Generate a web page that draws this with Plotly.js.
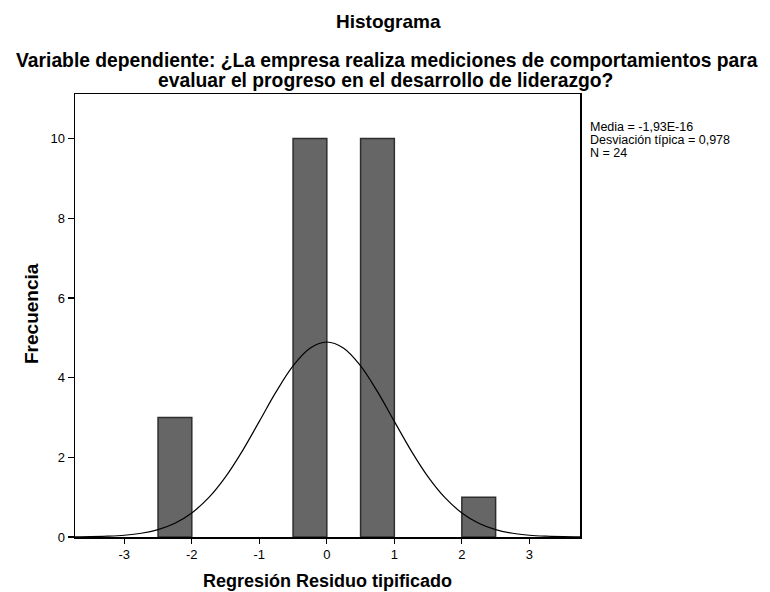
<!DOCTYPE html>
<html><head><meta charset="utf-8">
<script src="https://cdn.plot.ly/plotly-3.0.1.min.js"></script>
<style>body{margin:0;background:#fff}#c{width:770px;height:592px}</style>
</head><body><div id="c"></div>
<script>
// Histogram bins (start, end) and frequencies
const binStart = [-2.5, -0.5, 0.5, 2.0];
const binEnd   = [-2.0,  0.0, 1.0, 2.5];
const freq     = [3, 10, 10, 1];
// Normal curve (x, frequency)
const curveX = [-3.75,-3.5,-3.25,-3.0,-2.75,-2.5,-2.25,-2.0,-1.75,-1.5,-1.25,-1.0,-0.75,-0.5,-0.25,0,0.25,0.5,0.75,1.0,1.25,1.5,1.75,2.0,2.25,2.5,2.75,3.0,3.25,3.5,3.75];
const curveY = [0.003,0.008,0.020,0.044,0.094,0.187,0.347,0.605,0.987,1.510,2.163,2.902,3.648,4.295,4.737,4.895,4.737,4.295,3.648,2.902,2.163,1.510,0.987,0.605,0.347,0.187,0.094,0.044,0.020,0.008,0.003];
const xTicks = [-3,-2,-1,0,1,2,3];
const yTicks = [0,2,4,6,8,10];
const titleText = "Histograma";
const subtitleLines = ["Variable dependiente: ¿La empresa realiza mediciones de comportamientos para","evaluar el progreso en el desarrollo de liderazgo?"];
const xTitle = "Regresión Residuo tipificado";
const yTitle = "Frecuencia";
const statLines = ["Media = -1,93E-16","Desviación típica = 0,978","N = 24"];

const FONT = "Liberation Sans, Arial, sans-serif";
const barX = binStart.map((s,i)=>(s+binEnd[i])/2);
const barW = binStart.map((s,i)=>binEnd[i]-s);

const traces = [
  {type:'bar', x:barX, y:freq, width:barW,
   marker:{color:'#666666', line:{color:'#2e2e2e', width:1.5}},
   hoverinfo:'skip', showlegend:false},
  {type:'scatter', mode:'lines', x:curveX, y:curveY,
   line:{color:'#000', width:1.2, shape:'spline'}, hoverinfo:'skip', showlegend:false}
];

// plot area in pixels
const L=75, R=580, T=94, B=537;
const px = x => (x-L)/(R-L);
const py = y => (B-y)/(B-T);
const annotations = [];
function addText(text, x, y, size, opts){
  annotations.push(Object.assign({text:text, xref:'paper', yref:'paper', x:px(x), y:py(y),
    showarrow:false, xanchor:'center', yanchor:'middle', borderpad:0,
    font:{family:FONT, size:size, color:'#000'}}, opts||{}));
}
addText('<b>'+titleText+'</b>', 388, 22, 19);
addText('<b>'+subtitleLines[0]+'</b>', 387, 60, 19.3);
addText('<b>'+subtitleLines[1]+'</b>', 385, 80, 19.3);
addText('<b>'+xTitle+'</b>', 327, 581, 18);
addText('<b>'+yTitle+'</b>', 31, 314, 19, {textangle:-90});
statLines.forEach((t,i)=>{
  addText(t, 589, 127+i*13, 12.5, {xanchor:'left'});
});

const layout = {
  width:770, height:592,
  margin:{l:L, r:770-R, t:T, b:592-B, pad:0},
  paper_bgcolor:'#fff', plot_bgcolor:'#fff',
  font:{family:FONT, size:13, color:'#000'},
  bargap:0,
  xaxis:{range:[-3.73,3.75], tickvals:xTicks, ticktext:xTicks.map(String),
    ticks:'outside', ticklen:5, tickcolor:'#000', tickwidth:1.2, showgrid:false, zeroline:false,
    showline:true, linecolor:'#000', linewidth:1.5, mirror:true,
    tickfont:{family:FONT, size:13, color:'#000'}},
  yaxis:{range:[0,11.12], tickvals:yTicks, ticktext:yTicks.map(String),
    ticks:'outside', ticklen:6, tickcolor:'#000', tickwidth:1.2, showgrid:false, zeroline:false,
    showline:true, linecolor:'#000', linewidth:1.5, mirror:true,
    tickfont:{family:FONT, size:13, color:'#000'}},
  annotations: annotations
};
Plotly.newPlot('c', traces, layout, {displayModeBar:false, staticPlot:true});
</script></body></html>
